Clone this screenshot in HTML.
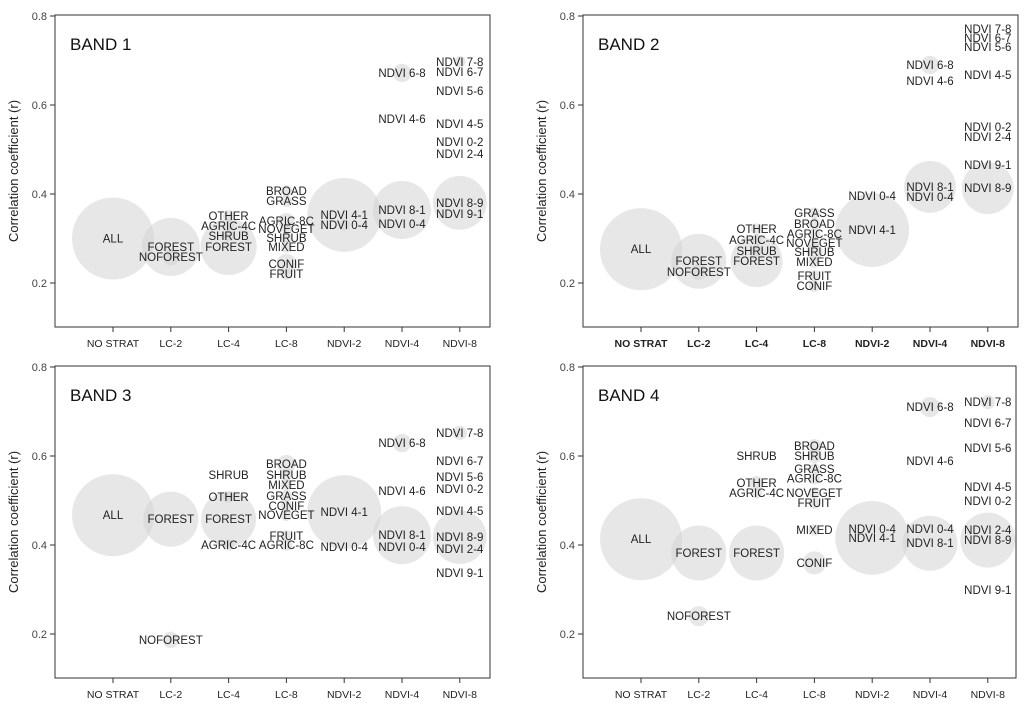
<!DOCTYPE html>
<html><head><meta charset="utf-8"><style>
body{margin:0;background:#fff;}
svg{display:block;font-family:"Liberation Sans",sans-serif;}
</style></head><body>
<svg id="chart" width="1024" height="706"></svg>
<script>
const categories=["NO STRAT","LC-2","LC-4","LC-8","NDVI-2","NDVI-4","NDVI-8"];
const yTicks=[0.2,0.4,0.6,0.8];
const panelTitles=["BAND 1","BAND 2","BAND 3","BAND 4"];
// per panel: labels, category index, value (r), weight (bubble size)
const b1Labels=["ALL","FOREST","NOFOREST","OTHER","AGRIC-4C","SHRUB","FOREST","BROAD","GRASS","AGRIC-8C","NOVEGET","SHRUB","MIXED","CONIF","FRUIT","NDVI 4-1","NDVI 0-4","NDVI 6-8","NDVI 4-6","NDVI 8-1","NDVI 0-4","NDVI 7-8","NDVI 6-7","NDVI 5-6","NDVI 4-5","NDVI 0-2","NDVI 2-4","NDVI 8-9","NDVI 9-1"];
const b1Cats=[0,1,1,2,2,2,2,3,3,3,3,3,3,3,3,4,4,5,5,5,5,6,6,6,6,6,6,6,6];
const b1Vals=[0.30,0.281,0.258,0.351,0.328,0.306,0.281,0.407,0.384,0.339,0.321,0.301,0.281,0.243,0.220,0.353,0.330,0.672,0.569,0.364,0.333,0.697,0.674,0.631,0.557,0.517,0.490,0.380,0.355];
const b1Size=[100,50,4,2,2,2,47,2,2,4,2,2,2,6,2,81,2,5,0,50,0,2,0,0,0,0,0,43,0];
const b2Labels=["ALL","FOREST","NOFOREST","OTHER","AGRIC-4C","SHRUB","FOREST","GRASS","BROAD","AGRIC-8C","NOVEGET","SHRUB","MIXED","FRUIT","CONIF","NDVI 0-4","NDVI 4-1","NDVI 6-8","NDVI 4-6","NDVI 8-1","NDVI 0-4","NDVI 7-8","NDVI 6-7","NDVI 5-6","NDVI 4-5","NDVI 0-2","NDVI 2-4","NDVI 9-1","NDVI 8-9"];
const b2Cats=[0,1,1,2,2,2,2,3,3,3,3,3,3,3,3,4,4,5,5,5,5,6,6,6,6,6,6,6,6];
const b2Vals=[0.276,0.249,0.225,0.321,0.297,0.272,0.249,0.357,0.333,0.310,0.290,0.270,0.247,0.216,0.193,0.396,0.319,0.690,0.654,0.416,0.393,0.771,0.751,0.730,0.667,0.551,0.528,0.465,0.413];
const b2Size=[100,45,4,2,2,2,40,2,2,2,2,4,2,2,2,0,81,5,0,40,0,0,0,0,0,0,0,0,40];
const b3Labels=["ALL","FOREST","NOFOREST","SHRUB","OTHER","FOREST","AGRIC-4C","BROAD","SHRUB","MIXED","GRASS","CONIF","NOVEGET","FRUIT","AGRIC-8C","NDVI 4-1","NDVI 0-4","NDVI 6-8","NDVI 4-6","NDVI 8-1","NDVI 0-4","NDVI 7-8","NDVI 6-7","NDVI 5-6","NDVI 0-2","NDVI 4-5","NDVI 8-9","NDVI 2-4","NDVI 9-1"];
const b3Cats=[0,1,1,2,2,2,2,3,3,3,3,3,3,3,3,4,4,5,5,5,5,6,6,6,6,6,6,6,6];
const b3Vals=[0.467,0.458,0.187,0.557,0.508,0.458,0.400,0.582,0.557,0.535,0.510,0.488,0.467,0.420,0.400,0.474,0.396,0.629,0.521,0.422,0.396,0.652,0.589,0.553,0.526,0.476,0.418,0.391,0.337];
const b3Size=[100,45,4,0,2,45,2,5,2,2,2,2,2,2,2,81,0,5,0,50,0,3,0,0,0,0,43,0,0];
const b4Labels=["ALL","FOREST","NOFOREST","SHRUB","OTHER","AGRIC-4C","FOREST","BROAD","SHRUB","GRASS","AGRIC-8C","NOVEGET","FRUIT","MIXED","CONIF","NDVI 0-4","NDVI 4-1","NDVI 6-8","NDVI 4-6","NDVI 0-4","NDVI 8-1","NDVI 7-8","NDVI 6-7","NDVI 5-6","NDVI 4-5","NDVI 0-2","NDVI 2-4","NDVI 8-9","NDVI 9-1"];
const b4Cats=[0,1,1,2,2,2,2,3,3,3,3,3,3,3,3,4,4,5,5,5,5,6,6,6,6,6,6,6,6];
const b4Vals=[0.413,0.382,0.240,0.600,0.539,0.517,0.382,0.622,0.600,0.571,0.549,0.517,0.494,0.434,0.360,0.436,0.416,0.710,0.589,0.436,0.404,0.721,0.674,0.618,0.530,0.499,0.434,0.411,0.299];
const b4Size=[100,45,6,0,3,2,45,3,3,2,2,2,2,2,8,0,81,6,0,0,45,3,0,0,0,0,0,45,0];

const panels=[
 {L:55,R:490,T:15,B:327,labels:b1Labels,cats:b1Cats,vals:b1Vals,size:b1Size},
 {L:583,R:1018,T:15,B:327,labels:b2Labels,cats:b2Cats,vals:b2Vals,size:b2Size},
 {L:55,R:490,T:366,B:678,labels:b3Labels,cats:b3Cats,vals:b3Vals,size:b3Size},
 {L:583,R:1016,T:366,B:678,labels:b4Labels,cats:b4Cats,vals:b4Vals,size:b4Size}
];
const NS="http://www.w3.org/2000/svg";
const svg=document.getElementById("chart");
function mk(tag,attrs,parent,text){const e=document.createElementNS(NS,tag);for(const k in attrs)e.setAttribute(k,attrs[k]);if(text!==undefined)e.textContent=text;(parent||svg).appendChild(e);return e;}
panels.forEach((p,pi)=>{
  const g=mk("g",{});
  
  
  const y=v=>p.T+1+(0.8-v)/0.6*267;
  const x=i=>p.L+58+i*57.8;
  const bubbles=mk("g",{},g);
  p.vals.forEach((v,i)=>{
    if(p.size[i]<=0)return;
    const c=mk("circle",{cx:x(p.cats[i]),cy:y(v),r:41*Math.sqrt(p.size[i]/100),fill:"#d4d4d4","fill-opacity":0.55},bubbles);
    
    
  });
  p.vals.forEach((v,i)=>{
    const t=mk("text",{x:x(p.cats[i]),y:y(v)+4,"text-anchor":"middle","font-size":"11.5",fill:"#222"},g,p.labels[i]);
    
    
  });
  const box=mk("rect",{x:p.L,y:p.T,width:p.R-p.L,height:p.B-p.T,fill:"none",stroke:"#333","stroke-width":1},g);
  
  
  yTicks.forEach(v=>{
    mk("line",{x1:p.L-5,x2:p.L,y1:y(v),y2:y(v),stroke:"#333"},g);
    const t=mk("text",{x:p.L-8,y:y(v)+4,"text-anchor":"end","font-size":"11",fill:"#444"},g,v.toFixed(1));
    
    
  });
  categories.forEach((c,i)=>{
    mk("line",{x1:x(i),x2:x(i),y1:p.B,y2:p.B+5,stroke:"#333"},g);
    const t=mk("text",{x:x(i),y:p.B+20,"text-anchor":"middle","font-size":"10.5",fill:"#222","font-weight":pi===1?"bold":"normal"},g,c);
    
    
  });
  const yt=mk("text",{x:0,y:0,transform:`translate(${p.L-37},${(p.T+p.B)/2}) rotate(-90)`,"text-anchor":"middle","font-size":"13",fill:"#222"},g,"Correlation coefficient (r)");
  
  
  const tt=mk("text",{x:p.L+15,y:p.T+35,"font-size":"17",fill:"#111"},g,panelTitles[pi]);
  
  
});
</script>
</body></html>
